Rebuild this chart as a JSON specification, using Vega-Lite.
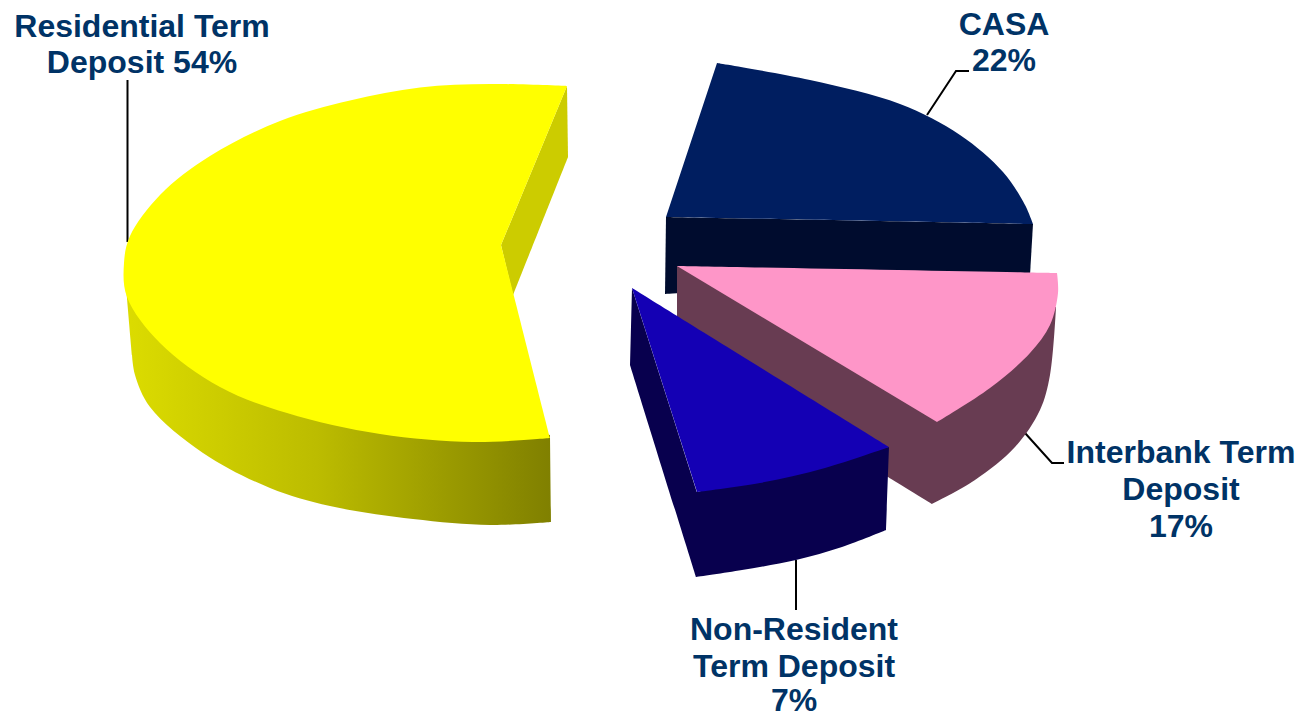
{
"$schema":"https://vega.github.io/schema/vega-lite/v6.json",
"width":1301,"height":717,"autosize":{"type":"none"},"padding":0,
"background":"white",
"view":{"stroke":null},
"datasets":{
"outlines":[
{"part":"yw","x":125,"y":275},{"part":"yw","x":125,"y":275},{"part":"yw","x":550,"y":435},{"part":"yw","x":550,"y":435},{"part":"yw","x":551,"y":522},{"part":"yw","x":551,"y":522},{"part":"yw","x":490,"y":525},{"part":"yw","x":413,"y":519},{"part":"yw","x":330,"y":506},{"part":"yw","x":270,"y":488},{"part":"yw","x":203,"y":453},{"part":"yw","x":150,"y":407},{"part":"yw","x":135,"y":375},{"part":"yw","x":132,"y":355},{"part":"yw","x":132,"y":355},{"part":"yw","x":125,"y":275},{"part":"yw","x":125,"y":275},
{"part":"ys","x":567,"y":86},{"part":"ys","x":567,"y":86},{"part":"ys","x":568,"y":157},{"part":"ys","x":568,"y":157},{"part":"ys","x":513,"y":295},{"part":"ys","x":513,"y":295},{"part":"ys","x":501,"y":245},{"part":"ys","x":501,"y":245},
{"part":"yt","x":567,"y":86},{"part":"yt","x":567,"y":86},{"part":"yt","x":490,"y":84},{"part":"yt","x":420,"y":87.5},{"part":"yt","x":350,"y":100.5},{"part":"yt","x":280,"y":121},{"part":"yt","x":210,"y":156},{"part":"yt","x":160,"y":195},{"part":"yt","x":130,"y":236},{"part":"yt","x":124,"y":263},{"part":"yt","x":127,"y":297},{"part":"yt","x":160,"y":343},{"part":"yt","x":220,"y":387},{"part":"yt","x":287,"y":413},{"part":"yt","x":380,"y":434},{"part":"yt","x":473,"y":442},{"part":"yt","x":550,"y":438},{"part":"yt","x":550,"y":438},{"part":"yt","x":501,"y":245},{"part":"yt","x":501,"y":245},
{"part":"nw","x":666,"y":217},{"part":"nw","x":666,"y":217},{"part":"nw","x":1033,"y":224},{"part":"nw","x":1033,"y":224},{"part":"nw","x":1030,"y":275},{"part":"nw","x":1030,"y":275},{"part":"nw","x":665,"y":294},{"part":"nw","x":665,"y":294},
{"part":"nt","x":717,"y":63},{"part":"nt","x":717,"y":63},{"part":"nt","x":810,"y":80},{"part":"nt","x":900,"y":104},{"part":"nt","x":960,"y":135},{"part":"nt","x":1003,"y":172},{"part":"nt","x":1025,"y":205},{"part":"nt","x":1033,"y":224},{"part":"nt","x":1033,"y":224},{"part":"nt","x":666,"y":217},{"part":"nt","x":666,"y":217},
{"part":"pw","x":677,"y":266},{"part":"pw","x":677,"y":266},{"part":"pw","x":1056,"y":307},{"part":"pw","x":1056,"y":307},{"part":"pw","x":1050,"y":375},{"part":"pw","x":1040,"y":410},{"part":"pw","x":1015,"y":447},{"part":"pw","x":975,"y":480},{"part":"pw","x":932,"y":504},{"part":"pw","x":932,"y":504},{"part":"pw","x":888,"y":477},{"part":"pw","x":888,"y":477},{"part":"pw","x":677,"y":317},{"part":"pw","x":677,"y":317},
{"part":"pt","x":677,"y":266},{"part":"pt","x":677,"y":266},{"part":"pt","x":1057,"y":273},{"part":"pt","x":1057,"y":273},{"part":"pt","x":1058,"y":293},{"part":"pt","x":1050,"y":325},{"part":"pt","x":1030,"y":353},{"part":"pt","x":990,"y":388},{"part":"pt","x":937,"y":422},{"part":"pt","x":937,"y":422},
{"part":"bw","x":632,"y":288},{"part":"bw","x":632,"y":288},{"part":"bw","x":697,"y":492},{"part":"bw","x":697,"y":492},{"part":"bw","x":889,"y":447},{"part":"bw","x":889,"y":447},{"part":"bw","x":886,"y":530},{"part":"bw","x":886,"y":530},{"part":"bw","x":842,"y":547},{"part":"bw","x":796,"y":560},{"part":"bw","x":742,"y":570},{"part":"bw","x":696,"y":577},{"part":"bw","x":696,"y":577},{"part":"bw","x":630,"y":365},{"part":"bw","x":630,"y":365},
{"part":"bt","x":632,"y":288},{"part":"bt","x":632,"y":288},{"part":"bt","x":889,"y":447},{"part":"bt","x":889,"y":447},{"part":"bt","x":825,"y":468},{"part":"bt","x":760,"y":483},{"part":"bt","x":697,"y":492},{"part":"bt","x":697,"y":492}
],
"leaders":[
{"slice":"Residential Term Deposit","x":127.5,"y":80},{"slice":"Residential Term Deposit","x":127.5,"y":242},
{"slice":"CASA","x":969,"y":71},{"slice":"CASA","x":956,"y":71},{"slice":"CASA","x":927,"y":115},
{"slice":"Interbank Term Deposit","x":1025,"y":433},{"slice":"Interbank Term Deposit","x":1052,"y":463},{"slice":"Interbank Term Deposit","x":1064,"y":463},
{"slice":"Non-Resident Term Deposit","x":796,"y":560},{"slice":"Non-Resident Term Deposit","x":796,"y":610}
],
"labels":[
{"slice":"Residential Term Deposit","share":54,"text":"Residential Term","x":142,"y":26.5},
{"slice":"Residential Term Deposit","share":54,"text":"Deposit 54%","x":142,"y":62.5},
{"slice":"CASA","share":22,"text":"CASA","x":1004,"y":24.5},
{"slice":"CASA","share":22,"text":"22%","x":1004,"y":60.5},
{"slice":"Interbank Term Deposit","share":17,"text":"Interbank Term","x":1181,"y":453},
{"slice":"Interbank Term Deposit","share":17,"text":"Deposit","x":1181,"y":490},
{"slice":"Interbank Term Deposit","share":17,"text":"17%","x":1181,"y":527},
{"slice":"Non-Resident Term Deposit","share":7,"text":"Non-Resident","x":794,"y":630},
{"slice":"Non-Resident Term Deposit","share":7,"text":"Term Deposit","x":794,"y":667},
{"slice":"Non-Resident Term Deposit","share":7,"text":"7%","x":794,"y":701}
]
},
"encoding":{
"x":{"field":"x","type":"quantitative","scale":{"domain":[0,1301]},"axis":null},
"y":{"field":"y","type":"quantitative","scale":{"domain":[717,0]},"axis":null}
},
"layer":[
{"data":{"name":"leaders"},"mark":{"type":"line","stroke":"#000000","strokeWidth":2},"encoding":{"detail":{"field":"slice"},"order":{"field":"ord"}},"transform":[{"window":[{"op":"row_number","as":"ord"}]}]},
{"data":{"name":"outlines"},"transform":[{"filter":"datum.part=='yw'"},{"window":[{"op":"row_number","as":"ord"}]}],"mark":{"type":"line","interpolate":"catmull-rom","stroke":null,"fill":{"gradient":"linear","x1":0,"y1":0,"x2":1,"y2":0,"stops":[{"offset":0,"color":"#dcdc00"},{"offset":0.45,"color":"#bcbc00"},{"offset":1,"color":"#808000"}]}},"encoding":{"order":{"field":"ord"}}},
{"data":{"name":"outlines"},"transform":[{"filter":"datum.part=='ys'"},{"window":[{"op":"row_number","as":"ord"}]}],"mark":{"type":"line","interpolate":"catmull-rom","stroke":null,"fill":"#cccc00"},"encoding":{"order":{"field":"ord"}}},
{"data":{"name":"outlines"},"transform":[{"filter":"datum.part=='yt'"},{"window":[{"op":"row_number","as":"ord"}]}],"mark":{"type":"line","interpolate":"catmull-rom","stroke":null,"fill":"#ffff00"},"encoding":{"order":{"field":"ord"}}},
{"data":{"name":"outlines"},"transform":[{"filter":"datum.part=='nw'"},{"window":[{"op":"row_number","as":"ord"}]}],"mark":{"type":"line","interpolate":"catmull-rom","stroke":null,"fill":"#000c2e"},"encoding":{"order":{"field":"ord"}}},
{"data":{"name":"outlines"},"transform":[{"filter":"datum.part=='nt'"},{"window":[{"op":"row_number","as":"ord"}]}],"mark":{"type":"line","interpolate":"catmull-rom","stroke":null,"fill":"#001e60"},"encoding":{"order":{"field":"ord"}}},
{"data":{"name":"outlines"},"transform":[{"filter":"datum.part=='pw'"},{"window":[{"op":"row_number","as":"ord"}]}],"mark":{"type":"line","interpolate":"catmull-rom","stroke":null,"fill":"#683c52"},"encoding":{"order":{"field":"ord"}}},
{"data":{"name":"outlines"},"transform":[{"filter":"datum.part=='pt'"},{"window":[{"op":"row_number","as":"ord"}]}],"mark":{"type":"line","interpolate":"catmull-rom","stroke":null,"fill":"#fe96c8"},"encoding":{"order":{"field":"ord"}}},
{"data":{"name":"outlines"},"transform":[{"filter":"datum.part=='bw'"},{"window":[{"op":"row_number","as":"ord"}]}],"mark":{"type":"line","interpolate":"catmull-rom","stroke":null,"fill":"#08004e"},"encoding":{"order":{"field":"ord"}}},
{"data":{"name":"outlines"},"transform":[{"filter":"datum.part=='bt'"},{"window":[{"op":"row_number","as":"ord"}]}],"mark":{"type":"line","interpolate":"catmull-rom","stroke":null,"fill":"#1400b4"},"encoding":{"order":{"field":"ord"}}},
{"data":{"name":"labels"},"mark":{"type":"text","font":"Liberation Sans","fontWeight":"bold","fontSize":32,"fill":"#003366","align":"center","baseline":"middle"},"encoding":{"text":{"field":"text"}}}
]
}
